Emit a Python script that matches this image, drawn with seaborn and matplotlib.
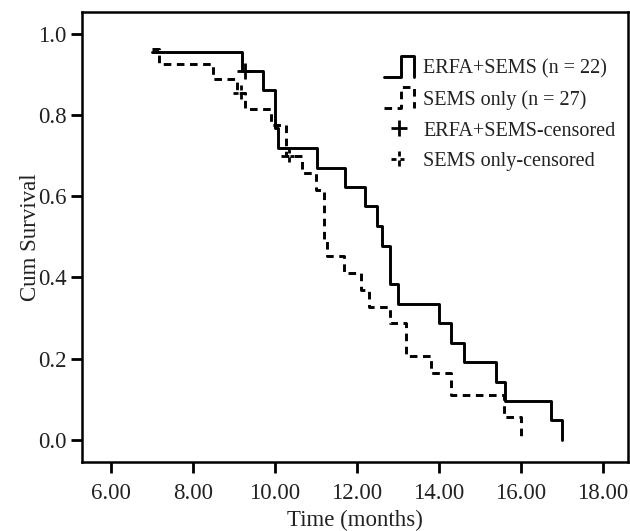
import numpy as np
import pandas as pd
import matplotlib
matplotlib.use("Agg")
import matplotlib.pyplot as plt
import seaborn as sns
from matplotlib.path import Path
from matplotlib.lines import Line2D
from matplotlib.legend_handler import HandlerBase

# ---- data ----
erfa_time = [7.00, 9.21, 9.71, 10.00, 10.07, 11.02, 11.71, 12.20, 12.50, 12.61,
             12.81, 13.02, 14.00, 14.31, 14.62, 15.41, 15.61, 16.73, 17.02]
erfa_surv = [0.955, 0.909, 0.862, 0.768, 0.720, 0.670, 0.622, 0.575, 0.527, 0.478,
             0.383, 0.335, 0.287, 0.239, 0.191, 0.143, 0.096, 0.048, 0.000]
sems_time = [7.00, 7.18, 8.49, 9.09, 9.28, 9.90, 10.28, 10.67, 11.00, 11.20,
             11.28, 11.69, 12.10, 12.31, 12.81, 13.20, 13.82, 14.31, 15.60, 16.02]
sems_surv = [0.963, 0.926, 0.889, 0.854, 0.815, 0.776, 0.700, 0.658, 0.615, 0.490,
             0.453, 0.410, 0.369, 0.328, 0.287, 0.206, 0.165, 0.109, 0.055, 0.000]
erfa_cens_time = [9.27]
erfa_cens_surv = [0.909]
sems_cens_time = [9.17, 10.35]
sems_cens_surv = [0.854, 0.700]

labels = ["ERFA+SEMS (n = 22)", "SEMS only (n = 27)",
          "ERFA+SEMS-censored", "SEMS only-censored"]
xticks = [6, 8, 10, 12, 14, 16, 18]
yticks = [0.0, 0.2, 0.4, 0.6, 0.8, 1.0]

sns.set_style("ticks")
plt.rcParams["font.family"] = ["Liberation Serif", "DejaVu Serif"]

fig = plt.figure(figsize=(6.30, 5.31), dpi=100)
ax = fig.add_axes([81.7 / 630, 1 - 462 / 531, (628 - 81.7) / 630, (462 - 11.7) / 531])

DASH = (0, (2.6, 1.9))
LW = 2.1

df_e = pd.DataFrame({"t": erfa_time, "s": erfa_surv})
df_s = pd.DataFrame({"t": sems_time, "s": sems_surv})
sns.lineplot(data=df_e, x="t", y="s", ax=ax, color="black", lw=LW,
             drawstyle="steps-post", estimator=None, sort=False)
sns.lineplot(data=df_s, x="t", y="s", ax=ax, color="black", lw=LW,
             drawstyle="steps-post", estimator=None, sort=False, linestyle=DASH)

# broken plus marker for dashed censor
broken_plus = Path(
    [(-1, 0), (-0.35, 0), (0.15, 0), (0.6, 0), (0, 1), (0, 0.35), (0, -0.1), (0, -0.8)],
    [Path.MOVETO, Path.LINETO, Path.MOVETO, Path.LINETO,
     Path.MOVETO, Path.LINETO, Path.MOVETO, Path.LINETO])

ax.plot(erfa_cens_time, erfa_cens_surv, ls="none", marker="+", ms=11, mew=2.0, color="black")
ax.plot(sems_cens_time, sems_cens_surv, ls="none", marker=broken_plus, ms=11, mew=2.0,
        mfc="none", mec="black")

ax.set_xlim(5.29, 18.62)
ax.set_ylim(-0.055, 1.055)
ax.set_xticks(xticks)
ax.set_xticklabels([f"{v:.2f}" for v in xticks])
ax.set_yticks(yticks)
ax.set_yticklabels([f"{v:.1f}" for v in yticks])
for sp in ax.spines.values():
    sp.set_visible(True)
    sp.set_linewidth(1.8)
    sp.set_color("black")
ax.tick_params(axis="both", direction="out", length=8, width=2.0, color="black",
               labelsize=16.5, labelcolor="#222222")
ax.tick_params(axis="y", pad=3)
ax.tick_params(axis="x", pad=7)
ax.set_xlabel("Time (months)", fontsize=16.5, color="#222222", labelpad=4)
ax.set_ylabel("Cum Survival", fontsize=16.5, color="#222222", labelpad=-2)


class StepHandler(HandlerBase):
    def __init__(self, ls):
        super().__init__()
        self.ls = ls

    def create_artists(self, legend, orig_handle, xdescent, ydescent, width, height,
                       fontsize, trans):
        x0, y0 = -xdescent, -ydescent - 0.25 * height
        w, h = width, height * 1.5
        xs = [x0, x0 + 0.58 * w, x0 + 0.58 * w, x0 + w, x0 + w]
        ys = [y0, y0, y0 + h, y0 + h, y0]
        ln = Line2D(xs, ys, color="black", lw=LW, linestyle=self.ls, transform=trans)
        return [ln]


h1 = Line2D([], [], color="black")
h2 = Line2D([], [], color="black", linestyle="--")
h3 = Line2D([], [], ls="none", marker="+", ms=12, mew=2.0, color="black")
h4 = Line2D([], [], ls="none", marker=broken_plus, ms=12, mew=2.0, mfc="none", mec="black")
leg = ax.legend([h1, h2, h3, h4], labels, loc="upper left",
                bbox_to_anchor=(0.52, 0.935), frameon=False, fontsize=14.5,
                handlelength=1.5, handletextpad=0.45, labelspacing=0.58,
                handler_map={h1: StepHandler("-"), h2: StepHandler(DASH)})
for t in leg.get_texts():
    t.set_color("#222222")

fig.savefig("out.png", dpi=100)
